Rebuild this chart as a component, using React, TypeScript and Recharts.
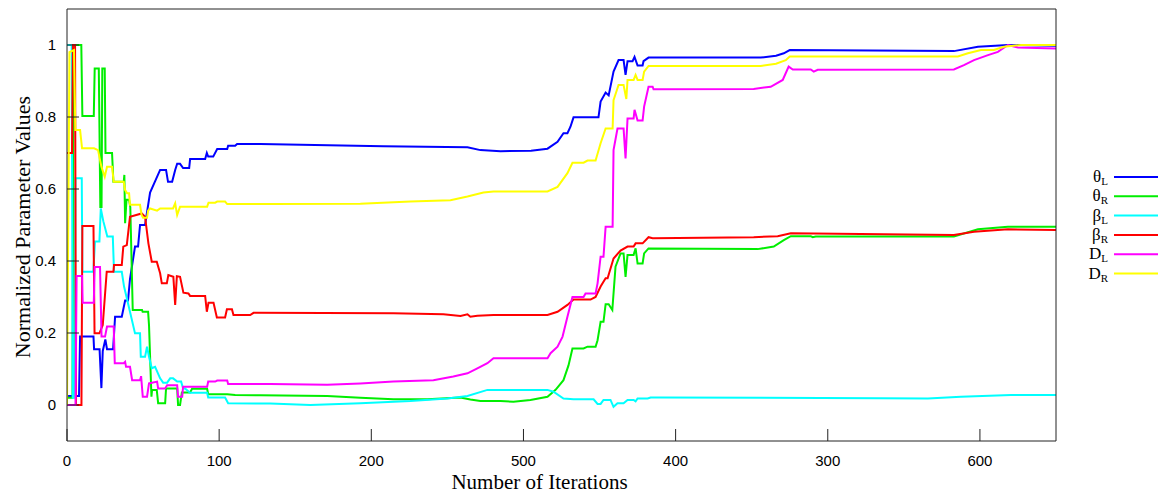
import { LineChart, Line, XAxis, YAxis, Legend } from "recharts";

type Pt = [number, number];

// x ticks sit at 0..600, the labels are printed as in the source figure
const xTicks = [0, 100, 200, 300, 400, 500, 600];
const xTickLabels = ["0", "100", "200", "500", "400", "300", "600"];
const yTicks = [0, 0.2, 0.4, 0.6, 0.8, 1];

// [iteration, normalized value]
const thetaL: Pt[] = [[0,0.025],[7.9,0.025],[8.6,0.19],[17.4,0.19],[17.8,0.155],[21.4,0.155],[22.6,0.047],[23.5,0.15],[25.2,0.182],[26.3,0.155],[30.3,0.155],[31.6,0.245],[36,0.245],[38.2,0.29],[40.1,0.29],[41.4,0.35],[44.7,0.44],[46.7,0.44],[48,0.5],[51.3,0.5],[54.6,0.59],[61.2,0.653],[65.1,0.653],[66.4,0.62],[69.1,0.62],[71.1,0.653],[72.4,0.67],[74.3,0.67],[76.3,0.658],[80.3,0.658],[80.9,0.683],[90.8,0.683],[91.9,0.7],[92.8,0.69],[96.1,0.69],[98.7,0.711],[105.3,0.711],[105.9,0.72],[110.5,0.72],[111.8,0.725],[127,0.725],[207.9,0.719],[263.2,0.716],[271.7,0.708],[284.9,0.705],[305,0.706],[315.8,0.712],[322.4,0.731],[326.3,0.755],[328.9,0.755],[330.9,0.773],[332.9,0.799],[349.3,0.799],[350.7,0.843],[354,0.868],[356,0.86],[359.2,0.926],[362.5,0.958],[365.8,0.958],[367.1,0.917],[368.4,0.955],[371.7,0.955],[373,0.967],[375,0.943],[378.3,0.943],[378.9,0.955],[382.2,0.965],[455.9,0.965],[466,0.97],[471.1,0.977],[475,0.986],[582.9,0.983],[598.7,0.995],[618.4,1.0],[650,0.998]];

const thetaR: Pt[] = [[0,0.02],[3.6,0.02],[4.3,1.0],[9.4,1.0],[10.1,0.803],[17.6,0.803],[18.2,0.935],[20.9,0.935],[21.9,0.55],[22.7,0.55],[23.2,0.935],[24.8,0.935],[25.3,0.7],[29.6,0.7],[30.5,0.62],[37.3,0.62],[37.7,0.639],[38.2,0.505],[39.1,0.57],[40.8,0.57],[41.6,0.55],[43.2,0.264],[49.3,0.264],[49.7,0.259],[53.3,0.259],[53.9,0.222],[55.5,0.023],[55.9,0.042],[59,0.042],[59.9,0.005],[64.5,0.005],[65.1,0.046],[72.4,0.046],[73,0.0],[74.3,0.0],[75.5,0.035],[80.9,0.035],[82.2,0.045],[92.1,0.045],[92.8,0.03],[105.3,0.03],[110.5,0.028],[127,0.027],[171,0.025],[192.8,0.02],[214.5,0.016],[236.8,0.016],[258.6,0.021],[265.1,0.015],[271.7,0.011],[284.9,0.011],[293.4,0.009],[304.6,0.014],[315.8,0.023],[321.1,0.042],[326.3,0.069],[329.6,0.11],[332.2,0.157],[339.5,0.157],[342.1,0.162],[347.4,0.162],[348.7,0.18],[350.7,0.231],[352.6,0.231],[354,0.28],[356,0.28],[358.4,0.264],[360.5,0.384],[363.8,0.421],[365.8,0.421],[367.1,0.356],[368.4,0.417],[372.4,0.417],[373.7,0.435],[375,0.393],[378.3,0.393],[379.3,0.421],[382.2,0.435],[453.9,0.433],[464.5,0.44],[471.1,0.458],[475.7,0.469],[488.8,0.469],[490.1,0.466],[492.1,0.468],[582.9,0.468],[598.7,0.488],[618.4,0.495],[650,0.495]];

const betaL: Pt[] = [[0,1.0],[3.1,1.0],[3.8,0.02],[4.9,0.02],[5.6,0.63],[9.7,0.63],[10.1,0.37],[17.3,0.37],[18.4,0.454],[21.3,0.454],[22.2,0.546],[23.9,0.51],[26.5,0.468],[30.1,0.468],[30.9,0.37],[36,0.37],[37.5,0.329],[41.4,0.259],[44.7,0.199],[48,0.199],[48.5,0.134],[51.3,0.134],[52.6,0.162],[53.9,0.134],[55.7,0.102],[57.9,0.106],[61.2,0.074],[63.2,0.062],[65.8,0.062],[67.8,0.074],[69.7,0.074],[72.4,0.065],[75,0.065],[76.3,0.046],[77.6,0.046],[80.9,0.034],[92.1,0.034],[92.8,0.021],[103.9,0.021],[105.9,0.005],[133.6,0.004],[159.9,0.0],[192.8,0.005],[225.7,0.011],[250,0.018],[263.2,0.025],[276.3,0.042],[315.8,0.042],[319.7,0.037],[326.3,0.018],[332.9,0.016],[346.1,0.016],[348.7,0.003],[350.7,0.003],[352.6,0.014],[357.2,0.014],[359.2,-0.005],[361.8,0.005],[365.8,0.005],[368.4,0.014],[372.4,0.014],[373.7,0.01],[375,0.018],[381.6,0.018],[383.6,0.021],[390.1,0.021],[534.9,0.019],[565.8,0.018],[587.5,0.023],[620.4,0.028],[650,0.028]];

const betaR: Pt[] = [[0,0.7],[3.3,0.7],[3.9,1.0],[5.3,1.0],[5.9,0],[9.5,0],[10.1,0.497],[17.4,0.497],[18.1,0.199],[21.3,0.199],[23.5,0.222],[26.1,0.37],[30.5,0.37],[30.9,0.389],[36,0.389],[37,0.44],[39.3,0.444],[41.4,0.523],[49.1,0.532],[51.3,0.523],[53.5,0.449],[55.7,0.398],[59,0.398],[61.2,0.366],[62.3,0.338],[65.6,0.338],[66.6,0.361],[69.9,0.356],[71.1,0.278],[72.2,0.358],[74.3,0.356],[76.5,0.312],[79.8,0.31],[80.9,0.303],[90.8,0.303],[91.9,0.259],[93,0.284],[96.3,0.284],[98.5,0.243],[103.9,0.243],[105.1,0.266],[108.4,0.266],[109.4,0.25],[120.4,0.25],[122.6,0.256],[214.5,0.255],[247.4,0.252],[258.6,0.247],[263.2,0.252],[265.1,0.245],[269.7,0.248],[280.3,0.25],[315.8,0.25],[322.4,0.259],[328.9,0.278],[332.9,0.293],[344.1,0.293],[347.4,0.3],[350.7,0.329],[354,0.352],[355.3,0.352],[359.2,0.407],[363.8,0.429],[368.4,0.44],[372.4,0.44],[373.7,0.449],[378.3,0.449],[382.2,0.466],[384.9,0.463],[451.3,0.466],[467.1,0.469],[475.7,0.477],[582.9,0.472],[596.1,0.481],[618.4,0.488],[650,0.486]];

const dL: Pt[] = [[0,0],[5.6,0],[6.3,0.358],[9.9,0.358],[10.3,0.284],[17.6,0.284],[18.2,0.383],[21.7,0.383],[22.7,0.19],[25,0.19],[26.3,0.218],[30.7,0.218],[31.4,0.116],[37.3,0.116],[38.2,0.12],[38.8,0.106],[41.4,0.106],[42.8,0.069],[48,0.069],[48.7,0.08],[49.8,0.023],[52.6,0.023],[53.9,0.06],[59.2,0.065],[59.9,0.046],[64.5,0.046],[65.8,0.055],[72.4,0.055],[73,0.023],[75.7,0.023],[76.3,0.051],[92.1,0.051],[92.8,0.065],[97.4,0.065],[98.7,0.068],[105.3,0.068],[105.9,0.058],[133.6,0.058],[171,0.056],[192.8,0.06],[214.5,0.065],[240.8,0.069],[253.9,0.079],[263.2,0.088],[269.7,0.102],[276.3,0.116],[280.3,0.13],[315.8,0.13],[317.8,0.144],[322.4,0.162],[325.7,0.19],[328.9,0.245],[332.2,0.3],[339.5,0.3],[340.8,0.31],[347.4,0.31],[348.7,0.338],[350.7,0.412],[352.6,0.412],[354,0.495],[358.6,0.495],[359.2,0.708],[361.8,0.768],[365.8,0.768],[367.1,0.685],[368.4,0.796],[372.4,0.796],[373,0.82],[375,0.79],[378.3,0.79],[379.3,0.829],[382.2,0.884],[384.9,0.884],[385.5,0.877],[451.3,0.878],[462.5,0.884],[470.4,0.903],[474.3,0.94],[477,0.932],[488.8,0.932],[490.8,0.926],[493.4,0.931],[582.9,0.932],[589.5,0.944],[596.1,0.958],[605.3,0.972],[611.8,0.981],[618.4,1.0],[625,0.993],[650,0.99]];

const dR: Pt[] = [[0,0],[1.6,0.98],[4.6,0.986],[5.5,0.764],[8.6,0.764],[9.9,0.713],[17.8,0.713],[20.4,0.708],[22.6,0.662],[24.8,0.634],[26.3,0.662],[29.6,0.662],[30.7,0.62],[37.3,0.62],[38.2,0.597],[39.5,0.588],[40.8,0.588],[41.4,0.556],[48,0.556],[49,0.528],[50,0.52],[52.6,0.52],[53.3,0.54],[54.6,0.546],[59.2,0.54],[61.2,0.546],[69.7,0.546],[71.1,0.56],[72.4,0.528],[74.3,0.551],[92.1,0.551],[93,0.562],[97.4,0.562],[98.7,0.565],[103.9,0.565],[105.3,0.558],[133.6,0.558],[192.8,0.559],[225.7,0.565],[252,0.569],[263.2,0.579],[273.7,0.59],[280.3,0.593],[315.8,0.593],[322.4,0.606],[328.9,0.644],[332.2,0.673],[339.5,0.673],[342.1,0.679],[347.4,0.679],[350.7,0.727],[354,0.768],[358.6,0.768],[359.2,0.847],[362.5,0.889],[365.8,0.889],[367.6,0.85],[368.4,0.903],[372.4,0.903],[373.7,0.917],[375,0.903],[378.3,0.903],[379.3,0.926],[382.2,0.942],[455.9,0.942],[466,0.948],[472.4,0.958],[475,0.968],[585.5,0.968],[592.1,0.977],[600.7,0.986],[609.2,0.986],[615.8,0.995],[627,1.0],[650,1.0]];

const series = [
  { key: "thetaL", sym: "θ", sub: "L", color: "#0000ff", pts: thetaL },
  { key: "thetaR", sym: "θ", sub: "R", color: "#00ee00", pts: thetaR },
  { key: "betaL", sym: "β", sub: "L", color: "#00ffff", pts: betaL },
  { key: "betaR", sym: "β", sub: "R", color: "#ff0000", pts: betaR },
  { key: "dL", sym: "D", sub: "L", color: "#ff00ff", pts: dL },
  { key: "dR", sym: "D", sub: "R", color: "#ffff00", pts: dR },
];

const serif = "'Liberation Serif', 'Times New Roman', serif";
const sans = "'Liberation Sans', Arial, sans-serif";
const frame = "#222";

function LegendBox() {
  return (
    <svg width={83} height={120}>
      {series.map((s, i) => {
        const y = 12 + i * 19.3;
        return (
          <g key={s.key}>
            <text x={33} y={y + 5} textAnchor="end" fontFamily={serif} fontSize={17} fill="#000">
              {s.sym}
              <tspan fontSize={11} dy={3}>{s.sub}</tspan>
            </text>
            <line x1={39} x2={83} y1={y} y2={y} stroke={s.color} strokeWidth={2} />
          </g>
        );
      })}
    </svg>
  );
}

export default function App() {
  return (
    <div style={{ position: "absolute", left: 0, top: 0, width: 1158, height: 497, background: "#fff" }}>
      <LineChart width={1158} height={497} margin={{ top: 0, right: 0, bottom: 0, left: 0 }}>
        <XAxis
          xAxisId={0}
          type="number"
          dataKey="x"
          domain={[0, 650]}
          ticks={xTicks}
          interval={0}
          height={56}
          allowDataOverflow
          tickFormatter={(v: number) => xTickLabels[xTicks.indexOf(v)] ?? String(v)}
          tick={{ fontFamily: sans, fontSize: 15, fill: "#000" }}
          tickSize={-12}
          tickMargin={26}
          axisLine={{ stroke: frame }}
          tickLine={{ stroke: frame }}
          label={{ value: "Number of Iterations", position: "insideBottom", offset: 8, dx: -22, fontFamily: serif, fontSize: 21, fill: "#000" }}
        />
        <XAxis
          xAxisId="top"
          orientation="top"
          type="number"
          dataKey="x"
          domain={[0, 650]}
          ticks={xTicks}
          interval={0}
          height={9}
          allowDataOverflow
          tick={false}
          tickSize={-12}
          axisLine={{ stroke: frame }}
          tickLine={{ stroke: frame }}
        />
        <YAxis
          yAxisId={0}
          type="number"
          domain={[-0.1, 1.1]}
          ticks={yTicks}
          interval={0}
          width={67}
          allowDataOverflow
          tickFormatter={(v: number) => String(Math.round(v * 10) / 10)}
          tick={{ fontFamily: sans, fontSize: 15, fill: "#000" }}
          tickSize={-12}
          tickMargin={23}
          axisLine={{ stroke: frame }}
          tickLine={{ stroke: frame }}
          label={{ value: "Normalized Parameter Values", angle: -90, position: "insideLeft", offset: 22, dy: 2, fontFamily: serif, fontSize: 22, fill: "#000", textAnchor: "middle", style: { textAnchor: "middle" } }}
        />
        <YAxis
          yAxisId="r"
          orientation="right"
          type="number"
          domain={[-0.1, 1.1]}
          ticks={yTicks}
          interval={0}
          width={102}
          allowDataOverflow
          tick={false}
          tickSize={-12}
          axisLine={{ stroke: frame }}
          tickLine={{ stroke: frame }}
        />
        <Legend
          layout="vertical"
          align="center"
          verticalAlign="middle"
          content={() => <LegendBox />}
          wrapperStyle={{ position: "absolute", left: 1075, top: 165, width: 83, height: 120 }}
        />
        {series.map((s) => (
          <Line
            key={s.key}
            xAxisId={0}
            yAxisId={0}
            data={s.pts.map(([x, y]) => ({ x, y }))}
            dataKey="y"
            name={s.key}
            type="linear"
            stroke={s.color}
            strokeWidth={2}
            dot={false}
            activeDot={false}
            isAnimationActive={false}
          />
        ))}
      </LineChart>
    </div>
  );
}
